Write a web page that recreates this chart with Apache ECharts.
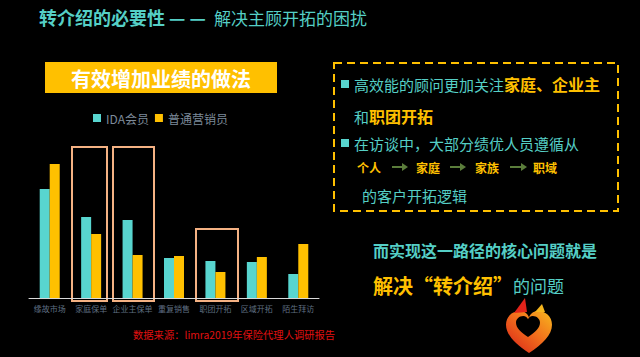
<!DOCTYPE html>
<html><head><meta charset="utf-8">
<script src="https://cdn.jsdelivr.net/npm/echarts@6/dist/echarts.min.js"></script>
<style>html,body{margin:0;padding:0;background:#000;}#c{width:640px;height:357px;}</style>
</head><body><div id="c"></div>
<script>
const categories = ['缘故市场','家庭保单','企业主保单','重复销售','职团开拓','区域开拓','陌生拜访'];
const idaValues = [21.8, 16.2, 15.6, 8.0, 7.4, 7.2, 4.8];
const normalValues = [26.8, 12.8, 8.6, 8.4, 5.2, 8.2, 10.8];
const seriesNames = ['IDA会员','普通营销员'];

const TEAL = '#58d5cf', GOLD = '#ffc000', TXT = '#55cfc6', BOX = '#f4b183';
const F = '"Noto Sans CJK SC", "Noto Sans", sans-serif';

echarts.graphic.registerShape('heartShape', echarts.graphic.extendShape({
  shape:{x:0, y:0, width:100, height:92},
  buildPath:function(ctx, s){
    const x=s.x, y=s.y, w=s.width/100, h=s.height/92;
    const P=(a,b)=>[x+a*w, y+b*h];
    let p=P(50,92); ctx.moveTo(p[0],p[1]);
    const c=(a1,b1,a2,b2,a3,b3)=>{const q1=P(a1,b1),q2=P(a2,b2),q3=P(a3,b3);ctx.bezierCurveTo(q1[0],q1[1],q2[0],q2[1],q3[0],q3[1]);};
    c(20,72,0,52,0,30); c(0,12,14,0,30,0); c(40,0,47,6,50,14);
    c(53,6,60,0,70,0); c(86,0,100,12,100,30); c(100,52,80,72,50,92);
    ctx.closePath();
  }
}));

const chart = echarts.init(document.getElementById('c'), null, {renderer:'svg'});

function arrow(x1, x2, y){
  return [
    {type:'line', shape:{x1:x1, y1:y, x2:x2-3, y2:y}, style:{stroke:'#5b7d3b', lineWidth:2}},
    {type:'polygon', shape:{points:[[x2,y],[x2-6,y-4],[x2-6,y+4]]}, style:{fill:'#5b7d3b'}}
  ];
}

chart.setOption({
  backgroundColor:'#000',
  animation:false,
  legend:{
    data:seriesNames, left:88, top:107, itemWidth:8, itemHeight:8, itemGap:6,
    icon:'rect', textStyle:{color:'#7d8a99', fontSize:12, fontFamily:F}
  },
  grid:{left:29, right:321, top:148, bottom:59},
  xAxis:{
    type:'category', data:categories,
    axisLine:{lineStyle:{color:'#d9d9d9', width:1}},
    axisTick:{show:false},
    axisLabel:{color:'#5f6f82', fontSize:8, margin:6, fontFamily:F, interval:0}
  },
  yAxis:{type:'value', min:0, max:30, show:false, splitLine:{show:false}},
  series:[
    {name:seriesNames[0], type:'bar', data:idaValues, barWidth:10, barGap:'0%', itemStyle:{color:TEAL}},
    {name:seriesNames[1], type:'bar', data:normalValues, barWidth:10, barGap:'0%', itemStyle:{color:GOLD}}
  ],
  graphic:[
    {type:'text', x:39, y:17, style:{text:'转介绍的必要性 — —', font:'bold 18px '+F, fill:TXT, verticalAlign:'middle'}},
    {type:'text', x:214, y:17, style:{text:'解决主顾开拓的困扰', font:'17px '+F, fill:TXT, verticalAlign:'middle'}},
    {type:'rect', shape:{x:45, y:62, width:232, height:31}, style:{fill:GOLD}},
    {type:'text', x:161, y:78, style:{text:'有效增加业绩的做法', font:'bold 20px '+F, fill:'#fff', align:'center', verticalAlign:'middle'}},
    {type:'rect', shape:{x:72, y:147, width:35, height:154}, style:{fill:'none', stroke:BOX, lineWidth:2}},
    {type:'rect', shape:{x:113, y:147, width:41, height:154}, style:{fill:'none', stroke:BOX, lineWidth:2}},
    {type:'rect', shape:{x:196, y:229, width:42, height:72}, style:{fill:'none', stroke:BOX, lineWidth:2}},
    {type:'rect', shape:{x:334, y:63, width:284, height:148}, style:{fill:'none', stroke:GOLD, lineWidth:2, lineDash:[8,5]}},
    {type:'rect', shape:{x:341, y:80, width:8, height:8}, style:{fill:TEAL}},
    {type:'text', x:354, y:84, style:{text:'{a|高效能的顾问更加关注}{b|家庭、企业主}', verticalAlign:'middle',
      rich:{a:{font:'15px '+F, fill:TXT, color:TXT}, b:{font:'bold 16px '+F, fill:GOLD, color:GOLD}}}},
    {type:'text', x:354, y:116, style:{text:'{a|和}{b|职团开拓}', verticalAlign:'middle',
      rich:{a:{font:'15px '+F, fill:TXT, color:TXT}, b:{font:'bold 16px '+F, fill:GOLD, color:GOLD}}}},
    {type:'rect', shape:{x:341, y:139, width:8, height:8}, style:{fill:TEAL}},
    {type:'text', x:354, y:143, style:{text:'在访谈中，大部分绩优人员遵循从', font:'15px '+F, fill:TXT, verticalAlign:'middle'}},
    {type:'text', x:357, y:167, style:{text:'个人', font:'bold 12px '+F, fill:GOLD, verticalAlign:'middle'}},
    {type:'text', x:416, y:167, style:{text:'家庭', font:'bold 12px '+F, fill:GOLD, verticalAlign:'middle'}},
    {type:'text', x:475, y:167, style:{text:'家族', font:'bold 12px '+F, fill:GOLD, verticalAlign:'middle'}},
    {type:'text', x:533, y:167, style:{text:'职域', font:'bold 12px '+F, fill:GOLD, verticalAlign:'middle'}},
    ...arrow(392, 408, 167), ...arrow(450, 466, 167), ...arrow(510, 527, 167),
    {type:'text', x:362, y:195, style:{text:'的客户开拓逻辑', font:'15px '+F, fill:TXT, verticalAlign:'middle'}},
    {type:'text', x:373, y:250, style:{text:'而实现这一路径的核心问题就是', font:'bold 16px '+F, fill:TXT, verticalAlign:'middle'}},
    {type:'text', x:373, y:285, style:{text:'{b|解决“转介绍”}{a|的问题}', verticalAlign:'middle',
      rich:{a:{font:'17px '+F, fill:TXT, color:TXT}, b:{font:'bold 20px '+F, fill:GOLD, color:GOLD}}}},
    {type:'text', x:133, y:334, style:{text:'数据来源：limra2019年保险代理人调研报告', font:'10.3px '+F, fill:'#e01010', verticalAlign:'middle'}},
    {type:'heartShape', shape:{x:506, y:311, width:46, height:42},
      style:{fill:{type:'linear', x:1, y:0, x2:0, y2:1, colorStops:[{offset:0,color:'#f7b81e'},{offset:0.45,color:'#f2701c'},{offset:1,color:'#d81f1a'}]}}},
    {type:'heartShape', shape:{x:516, y:316, width:24, height:21}, style:{fill:'#000'}},
    {type:'polygon', shape:{points:[[514,313],[525,298],[527,312]]}, style:{fill:'#e2231a'}},
    {type:'polygon', shape:{points:[[535,312],[542,304],[545,312]]}, style:{fill:'#f5b51e'}}
  ]
});
</script></body></html>
